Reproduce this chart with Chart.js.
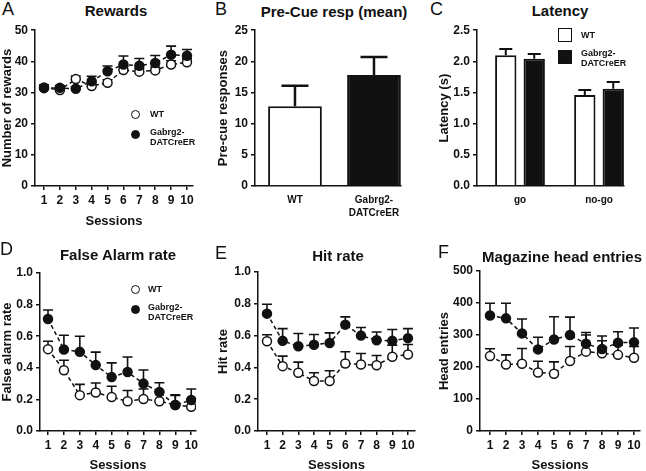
<!DOCTYPE html>
<html>
<head>
<meta charset="utf-8">
<script src="https://cdn.jsdelivr.net/npm/chart.js@4.4.1/dist/chart.umd.min.js"></script>
<style>
  body { margin: 0; background: #fff; }
  #fig { position: relative; width: 646px; height: 471px; overflow: hidden; font-family: "Liberation Sans", Arial, sans-serif; color: #111; }
  .panel { position: absolute; }
  .letter { position: absolute; font-size: 18px; line-height: 18px; }
  .title { position: absolute; font-size: 15px; font-weight: bold; line-height: 15px; transform: translateX(-50%); white-space: nowrap; }
  .leg { position: absolute; font-size: 9px; font-weight: bold; line-height: 10px; white-space: nowrap; }
  .dot { position: absolute; width: 9px; height: 9px; border-radius: 50%; border: 1.5px solid #111; box-sizing: border-box; }
  .box { position: absolute; width: 14px; height: 14px; border: 1.5px solid #111; box-sizing: border-box; }
</style>
</head>
<body>
<div id="fig">
  <canvas id="chartA" class="panel" width="215" height="215" style="left:0;top:20px"></canvas>
  <canvas id="chartB" class="panel" width="215" height="215" style="left:215px;top:20px"></canvas>
  <canvas id="chartC" class="panel" width="216" height="215" style="left:430px;top:20px"></canvas>
  <canvas id="chartD" class="panel" width="215" height="218" style="left:0;top:255px"></canvas>
  <canvas id="chartE" class="panel" width="215" height="218" style="left:215px;top:255px"></canvas>
  <canvas id="chartF" class="panel" width="216" height="218" style="left:430px;top:255px"></canvas>

  <div class="letter" style="left:2px;top:0">A</div>
  <div class="letter" style="left:215px;top:0">B</div>
  <div class="letter" style="left:430px;top:0">C</div>
  <div class="letter" style="left:0;top:240px">D</div>
  <div class="letter" style="left:215px;top:244px">E</div>
  <div class="letter" style="left:438px;top:243px">F</div>

  <div class="title" style="left:116px;top:3px">Rewards</div>
  <div class="title" style="left:334px;top:4px">Pre-Cue resp (mean)</div>
  <div class="title" style="left:560px;top:3px">Latency</div>
  <div class="title" style="left:118px;top:247px">False Alarm rate</div>
  <div class="title" style="left:338px;top:248px">Hit rate</div>
  <div class="title" style="left:562px;top:249px">Magazine head entries</div>

  <!-- legend A -->
  <div class="dot" style="left:131px;top:110px;background:#fff"></div>
  <div class="leg" style="left:150px;top:109px">WT</div>
  <div class="dot" style="left:131px;top:130px;background:#111"></div>
  <div class="leg" style="left:150px;top:127px">Gabrg2-<br>DATCreER</div>
  <!-- legend C -->
  <div class="box" style="left:558px;top:28px;background:#fff"></div>
  <div class="leg" style="left:581px;top:30px">WT</div>
  <div class="box" style="left:558px;top:50px;background:#111"></div>
  <div class="leg" style="left:581px;top:48px">Gabrg2-<br>DATCreER</div>
  <!-- legend D -->
  <div class="dot" style="left:131px;top:285px;background:#fff"></div>
  <div class="leg" style="left:148px;top:284px">WT</div>
  <div class="dot" style="left:131px;top:305px;background:#111"></div>
  <div class="leg" style="left:148px;top:302px">Gabrg2-<br>DATCreER</div>
</div>
<script>
const sessions = [1, 2, 3, 4, 5, 6, 7, 8, 9, 10];

const rewardsWT = [31.6, 30.8, 34.3, 32.1, 33.1, 37.2, 36.7, 37.1, 39.0, 39.7];
const rewardsWTErr = [0.9, 0.9, 1.0, 1.0, 1.0, 1.2, 1.0, 1.1, 1.2, 1.1];
const rewardsKO = [31.4, 31.5, 31.2, 33.6, 36.8, 39.0, 38.6, 39.5, 42.1, 41.8];
const rewardsKOErr = [0.8, 0.7, 0.6, 1.6, 1.7, 2.7, 2.3, 2.4, 2.8, 2.0];

const precueLabels = [['WT'], ['Gabrg2-', 'DATCreER']];
const precueMean = [12.8, 17.8];
const precueErr = [3.3, 2.9];

const latencyLabels = ['go', 'no-go'];
const latencyWT = [2.10, 1.46];
const latencyWTErr = [0.10, 0.08];
const latencyKO = [2.04, 1.56];
const latencyKOErr = [0.08, 0.11];

const falseAlarmWT = [0.518, 0.385, 0.227, 0.244, 0.215, 0.188, 0.203, 0.188, 0.165, 0.153];
const falseAlarmWTErr = [0.05, 0.063, 0.068, 0.06, 0.068, 0.068, 0.063, 0.06, 0.06, 0.05];
const falseAlarmKO = [0.709, 0.516, 0.501, 0.417, 0.341, 0.373, 0.300, 0.247, 0.164, 0.196];
const falseAlarmKOErr = [0.057, 0.09, 0.099, 0.082, 0.09, 0.095, 0.086, 0.058, 0.065, 0.07];

const hitWT = [0.565, 0.408, 0.366, 0.314, 0.314, 0.425, 0.418, 0.414, 0.467, 0.481];
const hitWTErr = [0.04, 0.063, 0.067, 0.052, 0.065, 0.073, 0.069, 0.061, 0.073, 0.063];
const hitKO = [0.738, 0.567, 0.533, 0.542, 0.554, 0.669, 0.600, 0.571, 0.567, 0.584];
const hitKOErr = [0.059, 0.077, 0.08, 0.065, 0.063, 0.049, 0.051, 0.052, 0.071, 0.06];

const headWT = [234, 208, 210, 183, 179, 219, 248, 243, 238, 229];
const headWTErr = [23, 30, 48, 35, 37, 45, 52, 39, 30, 35];
const headKO = [361, 352, 305, 255, 286, 300, 273, 256, 276, 277];
const headKOErr = [38, 47, 45, 38, 71, 56, 35, 41, 34, 45];

const FONT = '"Liberation Sans", Arial, sans-serif';
const INK = '#111';
Chart.defaults.font.family = FONT;
Chart.defaults.color = INK;
Chart.defaults.animation = false;

// upward SEM bars, drawn under the markers
const errorBars = {
  id: 'errorBars',
  beforeDatasetsDraw(chart, args, opts) {
    const ctx = chart.ctx;
    ctx.save();
    ctx.strokeStyle = INK;
    ctx.lineWidth = opts.width || 1.5;
    chart.data.datasets.forEach((ds, i) => {
      if (!ds.errors) return;
      const meta = chart.getDatasetMeta(i);
      const yScale = chart.scales[meta.yAxisID];
      meta.data.forEach((el, j) => {
        const v = typeof ds.data[j] === 'object' ? ds.data[j].y : ds.data[j];
        const base = yScale.getPixelForValue(v);
        const top = yScale.getPixelForValue(v + ds.errors[j]);
        const half = (opts.cap || 10) / 2;
        ctx.beginPath();
        ctx.moveTo(el.x, base);
        ctx.lineTo(el.x, top);
        ctx.moveTo(el.x - half, top);
        ctx.lineTo(el.x + half, top);
        ctx.stroke();
      });
    });
    ctx.restore();
  }
};
Chart.register(errorBars);

const tickFont = { family: FONT, size: 12, weight: 'bold' };
const titleFont = { family: FONT, size: 13, weight: 'bold' };

function axisLines(drawTicks = true) {
  return {
    grid: { drawOnChartArea: false, drawTicks, tickLength: 4, color: INK, lineWidth: 1.5, offset: false },
    border: { color: INK, width: 1.5 }
  };
}

function yAxis(max, step, title, width, titlePad, decimals) {
  return {
    min: 0, max,
    ...axisLines(),
    ticks: { stepSize: step, font: tickFont, color: INK, padding: 3,
      callback: v => decimals ? v.toFixed(decimals) : v },
    title: { display: true, text: title, font: titleFont, color: INK, padding: { top: titlePad, bottom: 0 } },
    afterFit: s => { s.width = width; }
  };
}

function sessionAxis(min, max, height, titlePad) {
  return {
    type: 'linear', min, max,
    ...axisLines(),
    afterBuildTicks: s => { s.ticks = sessions.map(v => ({ value: v })); },
    ticks: { font: tickFont, color: INK, padding: 3, maxRotation: 0, autoSkip: false },
    title: { display: true, text: 'Sessions', font: titleFont, color: INK, padding: { top: 0, bottom: titlePad } },
    afterFit: s => { s.height = height; }
  };
}

function series(label, vals, errs, fill, order) {
  return {
    label, order, errors: errs,
    data: vals.map((v, i) => ({ x: sessions[i], y: v })),
    borderColor: INK, borderWidth: 1.5, borderDash: [4, 3], tension: 0, fill: false,
    pointRadius: 4.5, pointBackgroundColor: fill, pointBorderColor: INK, pointBorderWidth: 1.5
  };
}

function sessionChart(id, wt, wtErr, ko, koErr, y, x, pad) {
  return new Chart(document.getElementById(id), {
    type: 'line',
    data: { datasets: [
      series('Gabrg2-DATCreER', ko, koErr, INK, 1),
      series('WT', wt, wtErr, '#fff', 2)
    ] },
    options: {
      responsive: false,
      layout: { padding: pad },
      plugins: { legend: { display: false }, tooltip: { enabled: false }, errorBars: { cap: 10, width: 1.6 } },
      scales: { x, y }
    }
  });
}

sessionChart('chartA', rewardsWT, rewardsWTErr, rewardsKO, rewardsKOErr,
  yAxis(50, 10, 'Number of rewards', 35, 0, 0),
  sessionAxis(0.434, 10.378, 49, 6),
  { top: 7, right: 22, left: 0, bottom: 0 });

sessionChart('chartD', falseAlarmWT, falseAlarmWTErr, falseAlarmKO, falseAlarmKOErr,
  yAxis(1, 0.2, 'False alarm rate', 40, 0, 1),
  sessionAxis(0.497, 10.3, 42, 0),
  { top: 18, right: 19, left: 0, bottom: 0 });

sessionChart('chartE', hitWT, hitWTErr, hitKO, hitKOErr,
  yAxis(1, 0.2, 'Hit rate', 43, 1, 1),
  sessionAxis(0.426, 10.45, 42, 0),
  { top: 17, right: 15, left: 0, bottom: 0 });

sessionChart('chartF', headWT, headWTErr, headKO, headKOErr,
  yAxis(500, 100, 'Head entries', 50, 7, 0),
  sessionAxis(0.375, 10.375, 42, 0),
  { top: 16, right: 6, left: 0, bottom: 0 });

// group axis: numeric positions 0,1 so the axis line can stop at the last bar
function groupAxis(labels, min, max, height) {
  return {
    type: 'linear', min, max, offset: false,
    ...axisLines(false),
    afterBuildTicks: s => { s.ticks = labels.map((_, i) => ({ value: i })); },
    ticks: { font: { family: FONT, size: 10, weight: 'bold', lineHeight: 1.3 }, color: INK, padding: 8,
      maxRotation: 0, autoSkip: false, callback: v => labels[v] },
    afterFit: s => { s.height = height; }
  };
}

new Chart(document.getElementById('chartB'), {
  type: 'bar',
  data: {
    datasets: [{
      data: precueMean.map((v, i) => ({ x: i, y: v })), errors: precueErr,
      backgroundColor: ['#fff', INK], borderColor: INK, borderWidth: 2,
      barPercentage: 0.68, categoryPercentage: 1
    }]
  },
  options: {
    responsive: false,
    layout: { padding: { top: 7, right: 29, left: 0, bottom: 0 } },
    plugins: { legend: { display: false }, tooltip: { enabled: false }, errorBars: { cap: 27, width: 2.5 } },
    scales: {
      x: groupAxis(precueLabels, -0.506, 1.342, 49),
      y: yAxis(25, 5, 'Pre-cue responses', 40, 1, 0)
    }
  }
});

new Chart(document.getElementById('chartC'), {
  type: 'bar',
  data: {
    datasets: [
      { label: 'WT', data: latencyWT.map((v, i) => ({ x: i, y: v })), errors: latencyWTErr,
        backgroundColor: '#fff', borderColor: INK, borderWidth: 2,
        barPercentage: 0.75, categoryPercentage: 0.72 },
      { label: 'Gabrg2-DATCreER', data: latencyKO.map((v, i) => ({ x: i, y: v })), errors: latencyKOErr,
        backgroundColor: INK, borderColor: INK, borderWidth: 2,
        barPercentage: 0.75, categoryPercentage: 0.72 }
    ]
  },
  options: {
    responsive: false,
    layout: { padding: { top: 7, right: 22, left: 0, bottom: 0 } },
    plugins: { legend: { display: false }, tooltip: { enabled: false }, errorBars: { cap: 13, width: 2 } },
    scales: {
      x: groupAxis(latencyLabels, -0.544, 1.316, 49),
      y: yAxis(2.5, 0.5, 'Latency (s)', 47, 7, 1)
    }
  }
});
</script>
</body>
</html>
